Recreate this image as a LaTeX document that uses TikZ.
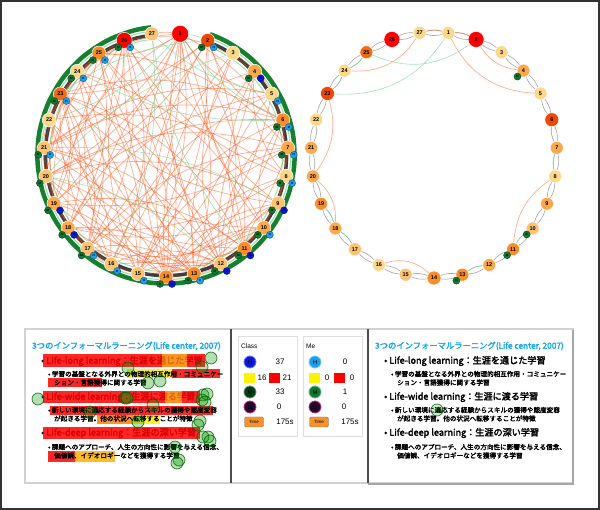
\documentclass[tikz,border=0pt]{standalone}
\usepackage{fontspec}
\setmainfont{Liberation Sans}
\newfontfamily\jp{Noto Sans CJK JP}[FakeBold=2.5]
\usetikzlibrary{positioning}

\definecolor{oA}{HTML}{FDD88A}
\definecolor{oB}{HTML}{FDC272}
\definecolor{oC}{HTML}{FBA94C}
\definecolor{oD}{HTML}{F88D2A}
\definecolor{oE}{HTML}{F26B12}
\definecolor{oF}{HTML}{EC4A04}
\definecolor{nred}{HTML}{FF0000}
\definecolor{hlight}{HTML}{1E9FE8}
\definecolor{hdark}{HTML}{0A18D8}
\definecolor{mgreen}{HTML}{0C7A30}
\definecolor{mdark}{HTML}{033D12}
\definecolor{bpurple}{HTML}{2A0430}
\definecolor{ringgreen}{HTML}{17802E}
\definecolor{ringgray}{HTML}{3E3E3E}
\definecolor{paleg}{HTML}{9FE3B2}
\definecolor{chordred}{HTML}{FF4A0A}
\definecolor{chordgreen}{HTML}{7FD99A}
\definecolor{skyblue}{HTML}{14A6EE}
\definecolor{timeor}{HTML}{F8922C}

\pgfdeclarelayer{bg}
\pgfsetlayers{bg,main}

% slide text, #1 = prefix, #2 = left edge
\newcommand{\slidetext}[2]{%
  \node[ttl] (#1t) at (#2+7,346) {3つのインフォーマルラーニング(Life center, 2007)};
  \node[hd] (#1h1) at (#2+16,361) {• Life-long learning：生涯を通じた学習};
  \node[sb] (#1s1) at (#2+23,374) {• 学習の基盤となる外界との物理的相互作用・コミュニケー};
  \node[sb] (#1s1b) at (#2+29,382.5) {ション・言語獲得に関する学習};
  \node[hd] (#1h2) at (#2+16,397) {• Life-wide learning：生涯に渡る学習};
  \node[sb] (#1s2) at (#2+23,410) {• 新しい環境に適応する経験からスキルの獲得や態度変容};
  \node[sb] (#1s2b) at (#2+29,418.5) {が起きる学習。他の状況へ転移することが特徴};
  \node[hd] (#1h3) at (#2+16,433) {• Life-deep learning：生涯の深い学習};
  \node[sb] (#1s3) at (#2+23,447) {• 課題へのアプローチ、人生の方向性に影響を与える信念、};
  \node[sb] (#1s3b) at (#2+29,455.5) {価値観、イデオロギーなどを獲得する学習};
}

\begin{document}
\begin{tikzpicture}[x=1pt, y=-1pt,
  dot/.style={circle, draw=white, line width=.5pt, inner sep=0pt, font=\bfseries\fontsize{5.5}{6}\selectfont},
  badge/.style={circle, draw=#1!55!black, fill=#1, line width=.4pt, inner sep=0pt, minimum size=7pt, font=\bfseries\fontsize{3}{3}\selectfont},
  chord/.style={chordred, opacity=.45, line width=.7pt},
  gchord/.style={chordgreen, opacity=.75, line width=.6pt},
  lens/.style={gray!70, line width=.6pt},
  ttl/.style={anchor=west, inner sep=0pt, text=skyblue, font=\jp\fontsize{8.3}{9}\selectfont},
  hd/.style={anchor=west, inner sep=0pt, font=\jp\fontsize{9.1}{10}\selectfont},
  sb/.style={anchor=west, inner sep=0pt, font=\jp\fontsize{6.6}{7}\selectfont},
  hl/.style={fill=#1, fill opacity=.85},
  fix/.style={circle, fill=green!60!black, fill opacity=.3, draw=green!35!black, draw opacity=.8, line width=.7pt, minimum size=12pt, inner sep=0pt},
  stat/.style={circle, draw=#1, line width=.8pt, minimum size=12pt, inner sep=0pt, font=\fontsize{6}{6}\selectfont},
  sq/.style={minimum width=11pt, minimum height=10pt, inner sep=0pt},
  num/.style={inner sep=0pt, font=\fontsize{8}{8}\selectfont},
  tm/.style={rounded corners=1.5pt, draw=gray, fill=timeor, minimum width=19pt, minimum height=10pt, inner sep=0pt, font=\fontsize{4.5}{5}\selectfont}]
\useasboundingbox (0,0) rectangle (600,510);

%% frames
\draw[black!80, line width=1.5pt] (1,1) rectangle (599,509);
\draw[gray!35, line width=1.5pt] (25,329) rectangle (573,483);
\draw[gray!70, line width=2pt] (573,330) -- (573,484) -- (368,484);
\draw[black!70, line width=1.5pt] (231,329) -- (231,483);
\draw[black!70, line width=1.5pt] (368,329) -- (368,483);

%% left circle: nodes and ring points
\begin{scope}[shift={(166,155)}]
  \foreach \k/\c/\s in {1/nred/17,2/oF/14,3/oA/14,4/oC/14,5/oA/14,6/oD/14,7/oC/14,8/oA/14,9/oB/14,10/oC/14,
      11/oD/14,12/oB/14,13/oD/14,14/oD/14,15/oB/14,16/oB/14,17/oB/14,18/oC/14,19/oC/14,20/oB/14,
      21/oB/14,22/oA/14,23/oE/14,24/oA/14,25/oD/14,26/nred/16,27/oB/14}{
    \node[dot, fill=\c, minimum size=\s pt] (L\k) at ({13.333*\k-96.667}:122) {\k};
    \coordinate (Lo\k) at ({13.333*\k-96.667}:128.5);
    \coordinate (Lp\k) at ({13.333*\k-96.667}:124.5);
    \coordinate (Li\k) at ({13.333*\k-96.667}:120.5);
    \coordinate (Lq\k) at ({13.333*\k-96.667}:116.5);
  }
\end{scope}

%% right circle
\begin{scope}[shift={(434,155)}]
  \foreach \k/\c/\s in {1/oA/13,2/nred/16,3/oA/13,4/oC/13,5/oA/13,6/oF/14,7/oC/13,8/oA/13,9/oC/13,10/oB/13,
      11/oD/13,12/oC/13,13/oD/13,14/oD/14,15/oB/13,16/oA/13,17/oB/13,18/oC/13,19/oD/13,20/oC/13,
      21/oC/13,22/oA/13,23/oF/14,24/oA/13,25/oE/13,26/nred/16,27/oA/13}
    \node[dot, fill=\c, minimum size=\s pt] (R\k) at ({13.333*\k-96.667}:123) {\k};
\end{scope}

\begin{pgfonlayer}{bg}
  %% left ring
  \foreach \k [evaluate=\k as \j using {int(\k+1)}] in {2,...,26}{
    \draw[ringgreen, line width=4.5pt] (Lo\k) to[bend left=6.7] (Lo\j);
    \draw[paleg, line width=1.2pt] (Lp\k) to[bend left=6.7] (Lp\j);
    \draw[ringgray, line width=3.5pt] (Li\k) to[bend left=6.7] (Li\j);
    \draw[paleg, line width=1pt] (Lq\k) to[bend left=6.7] (Lq\j);
  }
  \draw[chord] (L27) to[bend left=8] (L1);
  \draw[gchord] (L1) to[bend left=8] (L2);
  %% left chords
  \foreach \a/\b in {1/14,1/12,1/9,1/5,1/19,1/23,2/6,2/17,4/26,11/26,14/26,17/26,19/26,21/26,
      7/25,14/25,18/25,10/24,17/24,6/23,11/23,15/23,18/23,8/22,16/22,5/21,13/21,7/20,14/20,
      6/19,15/19,4/18,13/18,7/17,13/17,5/16,12/16,6/15,13/15,3/14,9/14,4/13,10/13,5/12,4/11,9/11,6/10,4/8,
      2/14,2/10,3/12,6/12,8/14,10/14,7/15,5/18,6/21,9/20,12/21,11/19,15/24,16/26,12/23,13/25,17/23,19/23}
    \draw[chord] (L\a) to[bend right=22] (L\b);
  \foreach \a/\b in {1/13,1/11,1/7,1/17,1/21,1/25,1/16,2/12,2/20,8/26,13/26,15/26,18/26,20/26,
      12/25,16/25,20/25,13/24,19/24,9/23,14/23,16/23,20/23,12/22,10/21,17/21,11/20,16/20,
      12/19,9/18,15/18,11/17,9/16,10/15,6/14,11/14,7/13,8/12,7/11,5/9,3/6,
      1/15,1/20,2/15,2/23,3/17,4/15,5/14,7/19,8/18,10/17,11/25,13/20,14/22,19/25,21/25,22/26,12/18}
    \draw[chord] (L\a) to[bend left=18] (L\b);
  \foreach \a/\b in {27/11,1/6,22/1,27/5,2/23,24/6,3/20,12/20,9/21,16/27}
    \draw[gchord] (L\a) to[bend right=15] (L\b);
  %% right lenses
  \foreach \k in {1,...,27}{
    \pgfmathtruncatemacro\j{mod(\k,27)+1}
    \draw[lens] (R\k) to[bend left=14] (R\j);
    \draw[lens] (R\j) to[bend left=14] (R\k);
  }
  \foreach \a/\b in {6/7,7/8,23/24,24/25,17/18,12/13,18/19}
    \draw[gchord] (R\a) to[bend right=14] (R\b);
  \draw[chord] (R27) to[bend left=14] (R1);
  \draw[chord] (R1) to[bend left=14] (R2);
  \foreach \a/\b/\c in {24/27/30,2/4/25,1/5/30,20/23/25,18/20/25,8/11/25,14/16/30}
    \draw[chord] (R\a) to[bend right=\c] (R\b);
  \draw[gchord] (R23) to[bend right=30] (R1);
  \draw[gchord] (R25) to[bend right=30] (R2);
  %% highlights under sub lines
  \fill[hl=yellow] (127,369) rectangle (172,378);
  \fill[hl=red] (172,369) rectangle (220,378);
  \fill[hl=red] (48,378) rectangle (102,387);
  \fill[hl=red] (50,406) rectangle (213,415);
  \fill[hl=orange] (97,415) rectangle (133,424);
  \fill[hl=yellow] (133,415) rectangle (160,424);
  \fill[hl=red] (48,451) rectangle (75,462);
  \fill[hl=orange!60!yellow] (75,451) rectangle (115,462);
\end{pgfonlayer}

%% badges
\foreach \k in {2,4,6,7,8,9,10,11,12,13,14,17,18,19,20,21,23,24,25,26}
  \node[badge=mgreen] (LM\k) at ([shift={(-6,7)}]L\k.center) {M};
\foreach \k in {2,5,6,7,8,10,13,15,16,17,21,23,24,25,26}
  \node[badge=hlight] (LH\k) at ([shift={(6,7)}]L\k.center) {H};
\foreach \k in {4,9,11,12,14,18,19}
  \node[badge=hdark] (LH\k) at ([shift={(6,7)}]L\k.center) {H};
\foreach \k in {4,10,11,13}
  \node[badge=mgreen] (RM\k) at ([shift={(-6,6)}]R\k.center) {M};

%% slides
\slidetext{a}{25}
\slidetext{b}{368}
\fill[hl=red] (43,354) rectangle (162,367);
\fill[hl=orange] (162,354) rectangle (187,367);
\fill[hl=red] (187,354) rectangle (205,367);
\fill[hl=red] (43,391) rectangle (165,403);
\fill[hl=orange] (165,391) rectangle (182,403);
\fill[hl=red] (182,391) rectangle (200,403);
\fill[hl=red] (43,427) rectangle (200,439);
\foreach \x/\y [count=\i] in {211/358,202/367,128/368,148/383,160/381,38/399,125/398,153/405,
    203/395,207/394,202/400,90/412,138/422,200/421,198/425,205/402,208/437,203/437,210/441,
    175/447,179/460,177/463,127/398}
  \node[fix] (fx\i) at (\x,\y) {};
\node[fix, fill opacity=.2] (fxb) at (437,410) {};

%% class / me panels
\foreach \p/\dx/\t/\hc/\mc/\nh/\ny/\nr/\nm in {C/0/Class/hdark/mdark/37/16/21/33, E/65/Me/hlight/mgreen/0/0/0/1}{
  \node[draw=gray!25, line width=.8pt, minimum width=59pt, minimum height=100pt] (\p box) at (267.5+\dx,386) {};
  \node[inner sep=0pt, anchor=west, font=\fontsize{6.5}{7}\selectfont] (\p name) at (241+\dx,346) {\t};
  \node[stat=\hc!60!white, fill=\hc] (\p H) at (250+\dx,362) {H};
  \node[num] (\p Hn) at (280+\dx,362) {\nh};
  \node[sq, fill=yellow] (\p Y) at (249+\dx,378) {};
  \node[num] (\p Yn) at (262+\dx,378) {\ny};
  \node[sq, fill=red] (\p R) at (274.5+\dx,378) {};
  \node[num] (\p Rn) at (287+\dx,378) {\nr};
  \node[stat=\mc!60!white, fill=\mc] (\p M) at (250+\dx,392) {M};
  \node[num] (\p Mn) at (280+\dx,392) {\nm};
  \node[stat=magenta!70!black, fill=bpurple] (\p B) at (250+\dx,407) {B};
  \node[num] (\p Bn) at (279+\dx,407) {0};
  \node[tm] (\p T) at (254+\dx,422) {Time};
  \node[num] (\p Tn) at (285+\dx,422) {175s};
}
\end{tikzpicture}
\end{document}
